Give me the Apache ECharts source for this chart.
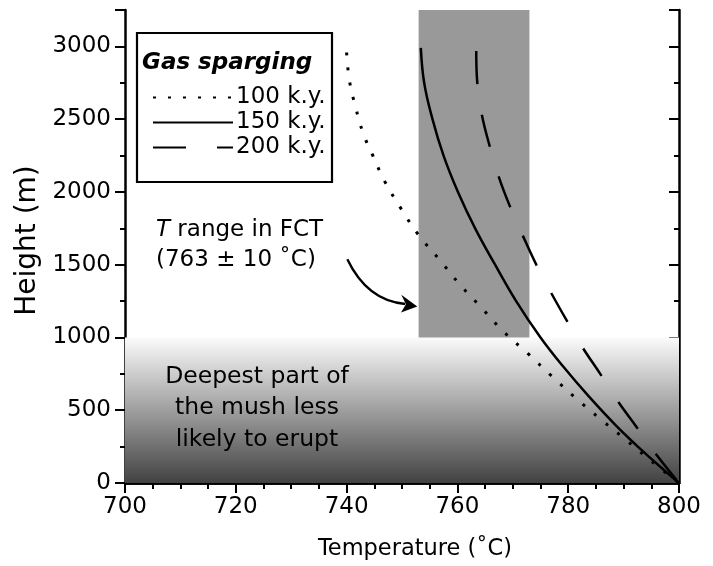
<!DOCTYPE html>
<html>
<head>
	<meta charset="UTF-8">
	<title>Gas sparging</title>
	<script src="https://cdn.jsdelivr.net/npm/echarts@6/dist/echarts.min.js"></script>
	<style>
		html, body { margin: 0; padding: 0; background: #fff; }
		#main { width: 713px; height: 566px; }
	</style>
</head>
<body>
	<div id="main"></div>
	<script type="text/javascript">
		// 数据
		var temp100 = [740.0, 740.5, 741.6, 743.0, 744.7, 746.9, 749.8, 752.9, 756.9, 760.5, 764.6, 768.3, 772.7, 777.0, 781.3, 785.8, 790.4, 795.0, 800];
		var h100 = [2958, 2768, 2585, 2402, 2253, 2071, 1887, 1709, 1528, 1361, 1194, 1041, 890, 735, 585, 440, 297, 150, 0];
		var temp150 = [753.4, 754.0, 755.5, 757.5, 760.1, 763.2, 766.8, 770.6, 775.0, 779.1, 783.6, 788.5, 794.0, 800];
		var h150 = [2990, 2750, 2500, 2250, 2000, 1750, 1500, 1250, 1000, 800, 600, 400, 200, 0];
		var temp200 = [763.4, 763.6, 764.4, 765.8, 767.5, 769.5, 771.8, 774.3, 776.9, 779.8, 782.6, 785.9, 788.9, 792.4, 795.7, 800];
		var h200 = [2968, 2746, 2533, 2318, 2100, 1899, 1700, 1495, 1308, 1112, 931, 743, 565, 382, 206, 0];
		var seriesNames = ['100 k.y.', '150 k.y.', '200 k.y.'];
		// T range in FCT: 763 ± 10 °C, above 1000 m
		var fctRange = [753, 773];
		var fctBase = 1000;
		var deepTop = 1000;

		var FONT = 'DejaVu Sans';

		function pairs(xs, ys) {
			var out = [];
			for (var i = 0; i < xs.length; i++) out.push([xs[i], ys[i]]);
			return out;
		}

		var myChart = echarts.init(document.getElementById('main'));

		function axisStyle(inside, len, minorLen, split, labels, margin) {
			return {
				axisLine: { show: true, lineStyle: { color: '#000', width: 2.5 } },
				axisTick: { show: true, inside: inside, length: len, lineStyle: { color: '#000', width: 2 } },
				minorTick: { show: true, splitNumber: split, length: minorLen, lineStyle: { color: '#000', width: 2 } },
				axisLabel: {
					show: labels, margin: margin, color: '#000', fontFamily: FONT, fontSize: 23,
					formatter: function (v) { return String(v); }
				},
				splitLine: { show: false }
			};
		}

		var xBottom = Object.assign({
			type: 'value', min: 700, max: 800, interval: 20, position: 'bottom',
			name: 'Temperature (˚C)', nameLocation: 'middle', nameGap: 55,
			nameTextStyle: { color: '#000', fontFamily: FONT, fontSize: 22.5, padding: [0, 0, 0, 26] }
		}, axisStyle(false, 10, 6, 4, true, 13));

		var xTop = Object.assign({
			type: 'value', min: 700, max: 800, interval: 20, position: 'top'
		}, axisStyle(true, 9, 6, 4, false, 0));

		var yLeft = Object.assign({
			type: 'value', min: 0, max: 3250, interval: 500, position: 'left',
			name: 'Height (m)', nameLocation: 'middle', nameGap: 80,
			nameTextStyle: { color: '#000', fontFamily: FONT, fontSize: 28, padding: [0, 0, 0, 12] }
		}, axisStyle(false, 10, 5, 2, true, 14));
		yLeft.axisLabel.showMaxLabel = false;

		var yRight = Object.assign({
			type: 'value', min: 0, max: 3250, interval: 500, position: 'right'
		}, axisStyle(true, 10, 5, 2, false, 0));

		var option = {
			animation: false,
			backgroundColor: '#fff',
			grid: { left: 125, right: 34, top: 10, bottom: 81, containLabel: false },
			legend: {
				orient: 'vertical',
				left: 147,
				top: 80,
				z: 12,
				itemWidth: 80,
				itemHeight: 25,
				itemGap: 0,
				data: seriesNames,
				itemStyle: { opacity: 0 },
				textStyle: { color: '#000', fontFamily: FONT, fontSize: 23, lineHeight: 25, padding: [0, 0, 0, -2] },
				selectedMode: false
			},
			xAxis: [xBottom, xTop],
			yAxis: [yLeft, yRight],
			series: [
				{
					// 背景区域
					name: 'areas',
					type: 'line',
					data: [],
					markArea: {
						silent: true,
						z: 1,
						data: [
							[{
								coord: [700, 0],
								itemStyle: {
									color: {
										type: 'linear', x: 0, y: 0, x2: 0, y2: 1,
										colorStops: [{ offset: 0, color: '#fbfbfb' }, { offset: 1, color: '#424242' }]
									}
								}
							}, { coord: [800, deepTop] }],
							[{ coord: [fctRange[0], fctBase], itemStyle: { color: '#999999' } }, { coord: [fctRange[1], 3250] }]
						]
					}
				},
				{
					name: seriesNames[0], type: 'line', symbol: 'none', smooth: 0.4, z: 3,
					lineStyle: { color: '#000', width: 3, type: [3, 12] },
					itemStyle: { color: '#000' },
					data: pairs(temp100, h100)
				},
				{
					name: seriesNames[1], type: 'line', symbol: 'none', smooth: 0.4, z: 3,
					lineStyle: { color: '#000', width: 2.5, type: 'solid' },
					itemStyle: { color: '#000' },
					data: pairs(temp150, h150)
				},
				{
					name: seriesNames[2], type: 'line', symbol: 'none', smooth: 0.4, z: 3,
					lineStyle: { color: '#000', width: 2.5, type: [33, 31] },
					itemStyle: { color: '#000' },
					data: pairs(temp200, h200)
				}
			]
		};
		myChart.setOption(option);

		// 注释箭头 (数据坐标)
		var p0 = myChart.convertToPixel({ gridIndex: 0 }, [740.13, 1537]);
		var pc = myChart.convertToPixel({ gridIndex: 0 }, [743.75, 1251]);
		var pTip = myChart.convertToPixel({ gridIndex: 0 }, [752.76, 1213]);
		var pEnd = [pTip[0] - 12, pTip[1] - 2.5];

		myChart.setOption({
			graphic: [
				{
					type: 'rect', z: 10,
					shape: { x: 137, y: 33, width: 195, height: 149 },
					style: { fill: '#fff', stroke: '#000', lineWidth: 2.2 }
				},
				{
					type: 'text', z: 11, left: 142, top: 52,
					style: {
						text: 'Gas sparging', fill: '#000', fontFamily: FONT,
						fontSize: 23, fontWeight: 'bold', fontStyle: 'italic'
					}
				},
				{
					type: 'text', z: 11, left: 156, top: 215,
					style: {
						text: '{i|T} range in FCT\n(763 ± 10 ˚C)',
						fill: '#000', fontFamily: FONT, fontSize: 23, lineHeight: 30,
						rich: {
							i: { fontStyle: 'italic', fontFamily: FONT, fontSize: 23, fill: '#000' }
						}
					}
				},
				{
					type: 'text', z: 11, x: 257, y: 361,
					style: {
						text: 'Deepest part of\nthe mush less\nlikely to erupt',
						fill: '#000', fontFamily: FONT, fontSize: 23.5, lineHeight: 31.5,
						align: 'center'
					}
				},
				{
					type: 'bezierCurve', z: 11,
					shape: { x1: p0[0], y1: p0[1], x2: pEnd[0], y2: pEnd[1], cpx1: pc[0], cpy1: pc[1] },
					style: { stroke: '#000', lineWidth: 2.4, fill: null }
				},
				{
					type: 'polygon', z: 11,
					shape: {
						points: [
							[pTip[0], pTip[1]],
							[pTip[0] - 16, pTip[1] - 11.6],
							[pTip[0] - 11.3, pTip[1] - 2.3],
							[pTip[0] - 16.3, pTip[1] + 6]
						]
					},
					style: { fill: '#000' }
				}
			]
		});
	</script>
</body>
</html>
